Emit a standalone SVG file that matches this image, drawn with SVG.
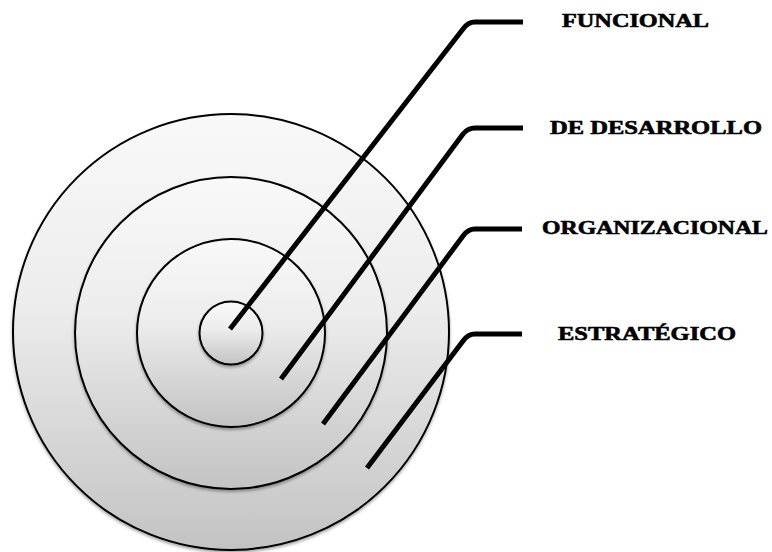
<svg xmlns="http://www.w3.org/2000/svg" width="772" height="552" viewBox="0 0 772 552">
<defs>
<linearGradient id="g" x1="0" y1="0" x2="0" y2="1">
<stop offset="0" stop-color="#f9f9f9"/>
<stop offset="0.45" stop-color="#ececec"/>
<stop offset="1" stop-color="#c3c3c3"/>
</linearGradient>
<filter id="sh" x="-10%" y="-10%" width="120%" height="125%">
<feDropShadow dx="0" dy="2" stdDeviation="1.5" flood-color="#000" flood-opacity="0.35"/>
</filter>
</defs>
<style>
.ring{fill:url(#g);stroke:#000;stroke-width:2;filter:url(#sh)}
.conn{fill:none;stroke:#000;stroke-width:5;stroke-linejoin:round}
.lbl{font-family:"Liberation Serif","Times New Roman",serif;font-weight:bold;font-size:19px;fill:#000;stroke:#000;stroke-width:0.6}
</style>
<rect width="772" height="552" fill="#fff"/>
<g id="ring-estrategico"><circle class="ring" cx="231" cy="332" r="218"/></g>
<g id="ring-organizacional"><circle class="ring" cx="231" cy="333" r="156"/></g>
<g id="ring-desarrollo"><circle class="ring" cx="231" cy="333" r="94"/></g>
<g id="ring-funcional"><circle class="ring" cx="231" cy="333" r="31.5"/></g>
<g id="connectors">
<path class="conn" d="M230,329 L463,29 Q468,22 475,22 L523,22"/>
<path class="conn" d="M281,379 L463,134 Q468,128 475,128 L523,128"/>
<path class="conn" d="M323,424 L463,236 Q468,229 475,229 L522,229"/>
<path class="conn" d="M367,468 L463,341 Q468,334 475,334 L522,334"/>
</g>
<g id="label-funcional"><text class="lbl" x="562" y="27" textLength="147" lengthAdjust="spacingAndGlyphs">FUNCIONAL</text></g>
<g id="label-desarrollo"><text class="lbl" x="550" y="134" textLength="212" lengthAdjust="spacingAndGlyphs">DE DESARROLLO</text></g>
<g id="label-organizacional"><text class="lbl" x="542" y="234" textLength="226" lengthAdjust="spacingAndGlyphs">ORGANIZACIONAL</text></g>
<g id="label-estrategico"><text class="lbl" x="558" y="340" textLength="178" lengthAdjust="spacingAndGlyphs">ESTRATÉGICO</text></g>
</svg>
